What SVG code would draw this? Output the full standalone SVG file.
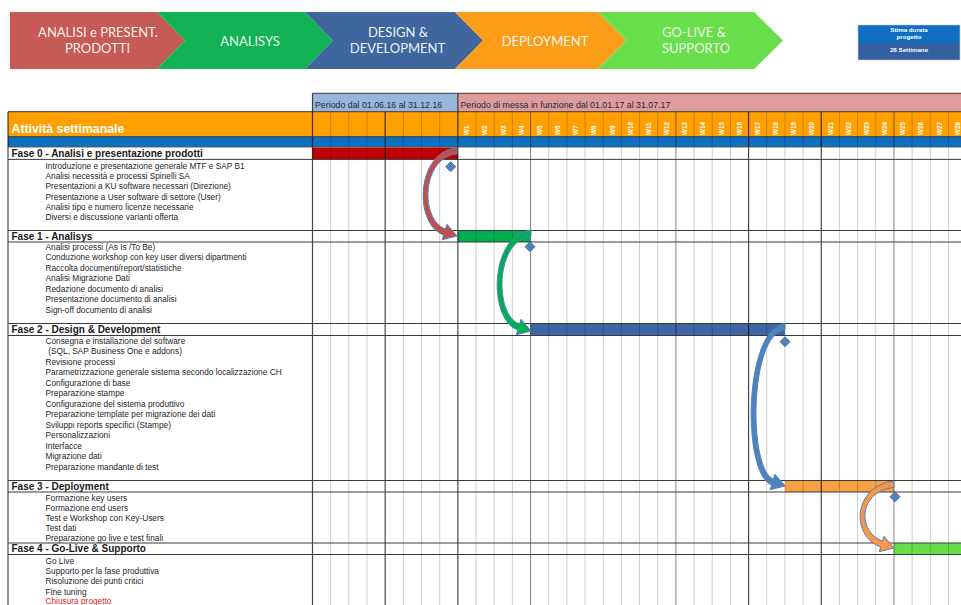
<svg xmlns="http://www.w3.org/2000/svg" width="961" height="605" viewBox="0 0 961 605">
<style>
.chev{font-family:Lato,"Liberation Sans",sans-serif;font-size:13px;fill:#FFFFFF;fill-opacity:.93;text-anchor:middle}
.stima{font-family:"Liberation Sans",Arial,sans-serif;font-size:6.2px;font-weight:bold;fill:#FFFFFF;text-anchor:middle}
.per{font-family:"Liberation Sans",Arial,sans-serif;font-size:8.8px;fill:#2a2a3a}
.head{font-family:"Liberation Sans",Arial,sans-serif;font-size:12.3px;font-weight:bold;fill:#FFFFFF}
.wk{font-family:"Liberation Sans",Arial,sans-serif;font-size:6.3px;font-weight:bold;fill:#FFFFFF}
.fase{font-family:"Liberation Sans",Arial,sans-serif;font-size:10px;font-weight:bold;fill:#1a1a1a}
.task{font-family:"Liberation Sans",Arial,sans-serif;font-size:8.3px;fill:#262626}
.thin{stroke:#000;stroke-opacity:.2;stroke-width:1;fill:none}
.med{stroke:#000;stroke-opacity:.45;stroke-width:1.1;fill:none}
.thick{stroke:#000;stroke-opacity:.72;stroke-width:1.2;fill:none}
.hl{stroke:#3a3a3a;stroke-width:1;fill:none}
.dia{fill:#4F81BD;stroke:#385D8A;stroke-width:.8}
.arr{stroke:#4F81BD;stroke-width:1}
</style>
<rect x="0" y="0" width="961" height="605" fill="#FFFFFF"/>

<g id="phase-banner">
  <g id="chevron-analisi">
    <path d="M10,12 L157,12 L185,40.5 L157,69 L10,69 Z" fill="#C55A57"/>
    <text class="chev" x="98" y="37">ANALISI e PRESENT.</text>
    <text class="chev" x="97.5" y="53">PRODOTTI</text>
  </g>
  <g id="chevron-analisys">
    <path d="M157,12 L305,12 L333,40.5 L305,69 L157,69 L185,40.5 Z" fill="#12B356"/>
    <text class="chev" x="250" y="46.4">ANALISYS</text>
  </g>
  <g id="chevron-design">
    <path d="M305,12 L455,12 L483,40.5 L455,69 L305,69 L333,40.5 Z" fill="#40669E"/>
    <text class="chev" x="398" y="37">DESIGN &amp;</text>
    <text class="chev" x="397.5" y="53">DEVELOPMENT</text>
  </g>
  <g id="chevron-deployment">
    <path d="M455,12 L598,12 L626.5,40.5 L598,69 L455,69 L483,40.5 Z" fill="#FB9D18"/>
    <text class="chev" x="545" y="46.4">DEPLOYMENT</text>
  </g>
  <g id="chevron-golive">
    <path d="M598,12 L754,12 L783,40.5 L754,69 L598,69 L626.5,40.5 Z" fill="#68DE4A"/>
    <text class="chev" x="694" y="37">GO-LIVE &amp;</text>
    <text class="chev" x="696" y="53">SUPPORTO</text>
  </g>
</g>

<g id="stima-box">
  <rect x="858" y="25" width="102" height="18" fill="#0F6EC2"/>
  <rect x="858" y="43" width="102" height="17" fill="#35609F"/>
  <rect x="858" y="25" width="102" height="35" fill="none" stroke="#C8C8C8" stroke-width=".6"/>
  <text class="stima" x="909" y="31.5">Stima durata</text>
  <text class="stima" x="909" y="38.8">progetto</text>
  <text class="stima" x="909" y="52">28 Settimane</text>
</g>

<g id="table-header">
  <rect x="312.5" y="93.3" width="145.4" height="18.4" fill="#98B6DC"/>
  <rect x="457.9" y="93.3" width="503.1" height="18.4" fill="#DE9C9B"/>
  <text class="per" x="315" y="107.5">Periodo dal 01.06.16 al 31.12.16</text>
  <text class="per" x="460.5" y="107.5">Periodo di messa in funzione dal 01.01.17 al 31.07.17</text>
  <rect x="8" y="111.7" width="953" height="25" fill="#FFA000"/>
  <rect x="8" y="136.7" width="953" height="10" fill="#0A70C2"/>
  <text class="head" x="11.5" y="133">Attività settimanale</text>
</g>

<g id="bars">
  <rect id="bar-fase0" x="312.5" y="147.5" width="145.4" height="12" fill="#C00000"/>
  <rect id="bar-fase1" x="457.9" y="230.5" width="72.6" height="11.5" fill="#00B050"/>
  <rect id="bar-fase2" x="530.5" y="323.5" width="254.4" height="12" fill="#3D66A2"/>
  <rect id="bar-fase3" x="784.9" y="480.5" width="109" height="11.5" fill="#F9A045"/>
  <rect id="bar-fase4" x="893.9" y="543" width="67.1" height="11.5" fill="#66DD4A"/>
</g>

<g id="grid">
  <path class="thin" d="M330.67,111.7V605 M348.84,111.7V605 M367.01,111.7V605 M403.35,111.7V605 M421.52,111.7V605 M439.69,111.7V605 M476.03,111.7V605 M494.2,111.7V605 M512.37,111.7V605 M548.71,111.7V605 M566.88,111.7V605 M585.05,111.7V605 M603.22,111.7V605 M621.39,111.7V605 M639.56,111.7V605 M657.73,111.7V605 M694.07,111.7V605 M712.24,111.7V605 M730.41,111.7V605 M766.75,111.7V605 M784.92,111.7V605 M803.09,111.7V605 M839.43,111.7V605 M857.6,111.7V605 M875.77,111.7V605 M912.11,111.7V605 M930.28,111.7V605 M948.45,111.7V605"/>
  <path class="med" d="M530.54,111.7V605 M675.9,111.7V605 M893.94,111.7V605"/>
  <path class="thick" d="M312.5,93.3V605 M457.86,93.3V605 M385.18,111.7V605 M748.58,111.7V605 M821.26,111.7V605 M8,111.7V605"/>
  <path class="hl" d="M312.5,93.3H961 M8,111.7H961 M8,136.7H961 M8,146.9H961 M8,159.4H961 M8,230.5H961 M8,242H961 M8,323.5H961 M8,335.5H961 M8,480.5H961 M8,492H961 M8,543H961 M8,554.5H961"/>
</g>

<g id="week-labels">
  <text class="wk" transform="translate(469.1,135) rotate(-90)">W1</text>
  <text class="wk" transform="translate(487.3,135) rotate(-90)">W2</text>
  <text class="wk" transform="translate(505.5,135) rotate(-90)">W3</text>
  <text class="wk" transform="translate(523.6,135) rotate(-90)">W4</text>
  <text class="wk" transform="translate(541.8,135) rotate(-90)">W5</text>
  <text class="wk" transform="translate(560,135) rotate(-90)">W6</text>
  <text class="wk" transform="translate(578.2,135) rotate(-90)">W7</text>
  <text class="wk" transform="translate(596.3,135) rotate(-90)">W8</text>
  <text class="wk" transform="translate(614.5,135) rotate(-90)">W9</text>
  <text class="wk" transform="translate(632.7,135) rotate(-90)">W10</text>
  <text class="wk" transform="translate(650.8,135) rotate(-90)">W11</text>
  <text class="wk" transform="translate(669,135) rotate(-90)">W12</text>
  <text class="wk" transform="translate(687.2,135) rotate(-90)">W13</text>
  <text class="wk" transform="translate(705.4,135) rotate(-90)">W14</text>
  <text class="wk" transform="translate(723.5,135) rotate(-90)">W15</text>
  <text class="wk" transform="translate(741.7,135) rotate(-90)">W16</text>
  <text class="wk" transform="translate(759.9,135) rotate(-90)">W17</text>
  <text class="wk" transform="translate(778,135) rotate(-90)">W18</text>
  <text class="wk" transform="translate(796.2,135) rotate(-90)">W19</text>
  <text class="wk" transform="translate(814.4,135) rotate(-90)">W20</text>
  <text class="wk" transform="translate(832.5,135) rotate(-90)">W21</text>
  <text class="wk" transform="translate(850.7,135) rotate(-90)">W22</text>
  <text class="wk" transform="translate(868.9,135) rotate(-90)">W23</text>
  <text class="wk" transform="translate(887.1,135) rotate(-90)">W24</text>
  <text class="wk" transform="translate(905.2,135) rotate(-90)">W25</text>
  <text class="wk" transform="translate(923.4,135) rotate(-90)">W26</text>
  <text class="wk" transform="translate(941.6,135) rotate(-90)">W27</text>
  <text class="wk" transform="translate(959.7,135) rotate(-90)">W28</text>
</g>

<g id="fase0">
  <text class="fase" x="11.5" y="157">Fase 0 - Analisi e presentazione prodotti</text>
  <text class="task" x="45.5" y="168.7">Introduzione e presentazione generale MTF e SAP B1</text>
  <text class="task" x="45.5" y="179">Analisi necessità e processi Spinelli SA</text>
  <text class="task" x="45.5" y="189.3">Presentazioni a KU software necessari (Direzione)</text>
  <text class="task" x="45.5" y="199.6">Presentazione a User software di settore (User)</text>
  <text class="task" x="45.5" y="209.9">Analisi tipo e numero licenze necessarie</text>
  <text class="task" x="45.5" y="220.2">Diversi e discussione varianti offerta</text>
</g>
<g id="fase1">
  <text class="fase" x="11.5" y="240">Fase 1 - Analisys</text>
  <text class="task" x="45.5" y="249.5">Analisi processi (As Is /To Be)</text>
  <text class="task" x="45.5" y="260">Conduzione workshop con key user diversi dipartmenti</text>
  <text class="task" x="45.5" y="270.6">Raccolta documenti/report/statistiche</text>
  <text class="task" x="45.5" y="281.2">Analisi Migrazione Dati</text>
  <text class="task" x="45.5" y="291.8">Redazione documento di analisi</text>
  <text class="task" x="45.5" y="302.4">Presentazione documento di analisi</text>
  <text class="task" x="45.5" y="313">Sign-off documento di analisi</text>
</g>
<g id="fase2">
  <text class="fase" x="11.5" y="333">Fase 2 - Design &amp; Development</text>
  <text class="task" x="45.5" y="343.7">Consegna e installazione del software</text>
  <text class="task" x="48.3" y="354.2">(SQL, SAP Business One e addons)</text>
  <text class="task" x="45.5" y="364.7">Revisione processi</text>
  <text class="task" x="45.5" y="375.2">Parametrizzazione generale sistema secondo localizzazione CH</text>
  <text class="task" x="45.5" y="385.7">Configurazione di base</text>
  <text class="task" x="45.5" y="396.2">Preparazione stampe</text>
  <text class="task" x="45.5" y="406.7">Configurazione del sistema produttivo</text>
  <text class="task" x="45.5" y="417.2">Preparazione template per migrazione dei dati</text>
  <text class="task" x="45.5" y="427.7">Sviluppi reports specifici (Stampe)</text>
  <text class="task" x="45.5" y="438.2">Personalizzazioni</text>
  <text class="task" x="45.5" y="448.7">Interfacce</text>
  <text class="task" x="45.5" y="459.2">Migrazione dati</text>
  <text class="task" x="45.5" y="469.7">Preparazione mandante di test</text>
</g>
<g id="fase3">
  <text class="fase" x="11.5" y="489.5">Fase 3 - Deployment</text>
  <text class="task" x="45.5" y="501">Formazione key users</text>
  <text class="task" x="45.5" y="511">Formazione end users</text>
  <text class="task" x="45.5" y="521">Test e Workshop con Key-Users</text>
  <text class="task" x="45.5" y="531">Test dati</text>
  <text class="task" x="45.5" y="541">Preparazione go live e test finali</text>
</g>
<g id="fase4">
  <text class="fase" x="11.5" y="552">Fase 4 - Go-Live &amp; Supporto</text>
  <text class="task" x="45.5" y="563.5">Go Live</text>
  <text class="task" x="45.5" y="574">Supporto per la fase produttiva</text>
  <text class="task" x="45.5" y="584">Risoluzione dei punti critici</text>
  <text class="task" x="45.5" y="594.5">Fine tuning</text>
  <text class="task" x="45.5" y="604" style="fill:#E31B23">Chiusura progetto</text>
</g>

<g id="connectors">
  <path class="arr" fill="#C0504D" d="M457,147.5 C415,152.5 414,225 443.7,234.9 L442.2,239.7 L457,236 L447,224.3 L445.5,229.1 C420,220 421,157.5 457,154 Z"/>
  <path class="arr" fill="#00B050" d="M531,230 C489,235 488,320 517.7,329.9 L516.2,334.7 L531,331 L521,319.3 L519.5,324.1 C494,315 495,240 531,236.5 Z"/>
  <path class="arr" fill="#4F81BD" stroke="#385D8A" d="M785,323.5 C743,328.5 742,475 771.7,484.9 L770.2,489.7 L785,486 L775,474.3 L773.5,479.1 C748,470 749,333.5 785,330 Z"/>
  <path class="arr" fill="#F79646" d="M894,481 C852,486 851,537 880.7,546.9 L879.2,551.7 L894,548 L884,536.3 L882.5,541.1 C857,532 858,491 894,487.5 Z"/>
</g>

<g id="milestones">
  <path id="ms0" class="dia" d="M450.7,161.7 L455.7,166.7 L450.7,171.7 L445.7,166.7 Z"/>
  <path id="ms1" class="dia" d="M530,241.7 L535,246.7 L530,251.7 L525,246.7 Z"/>
  <path id="ms2" class="dia" d="M785,336.7 L790,341.7 L785,346.7 L780,341.7 Z"/>
  <path id="ms3" class="dia" d="M895,491.7 L900,496.7 L895,501.7 L890,496.7 Z"/>
</g>
</svg>
